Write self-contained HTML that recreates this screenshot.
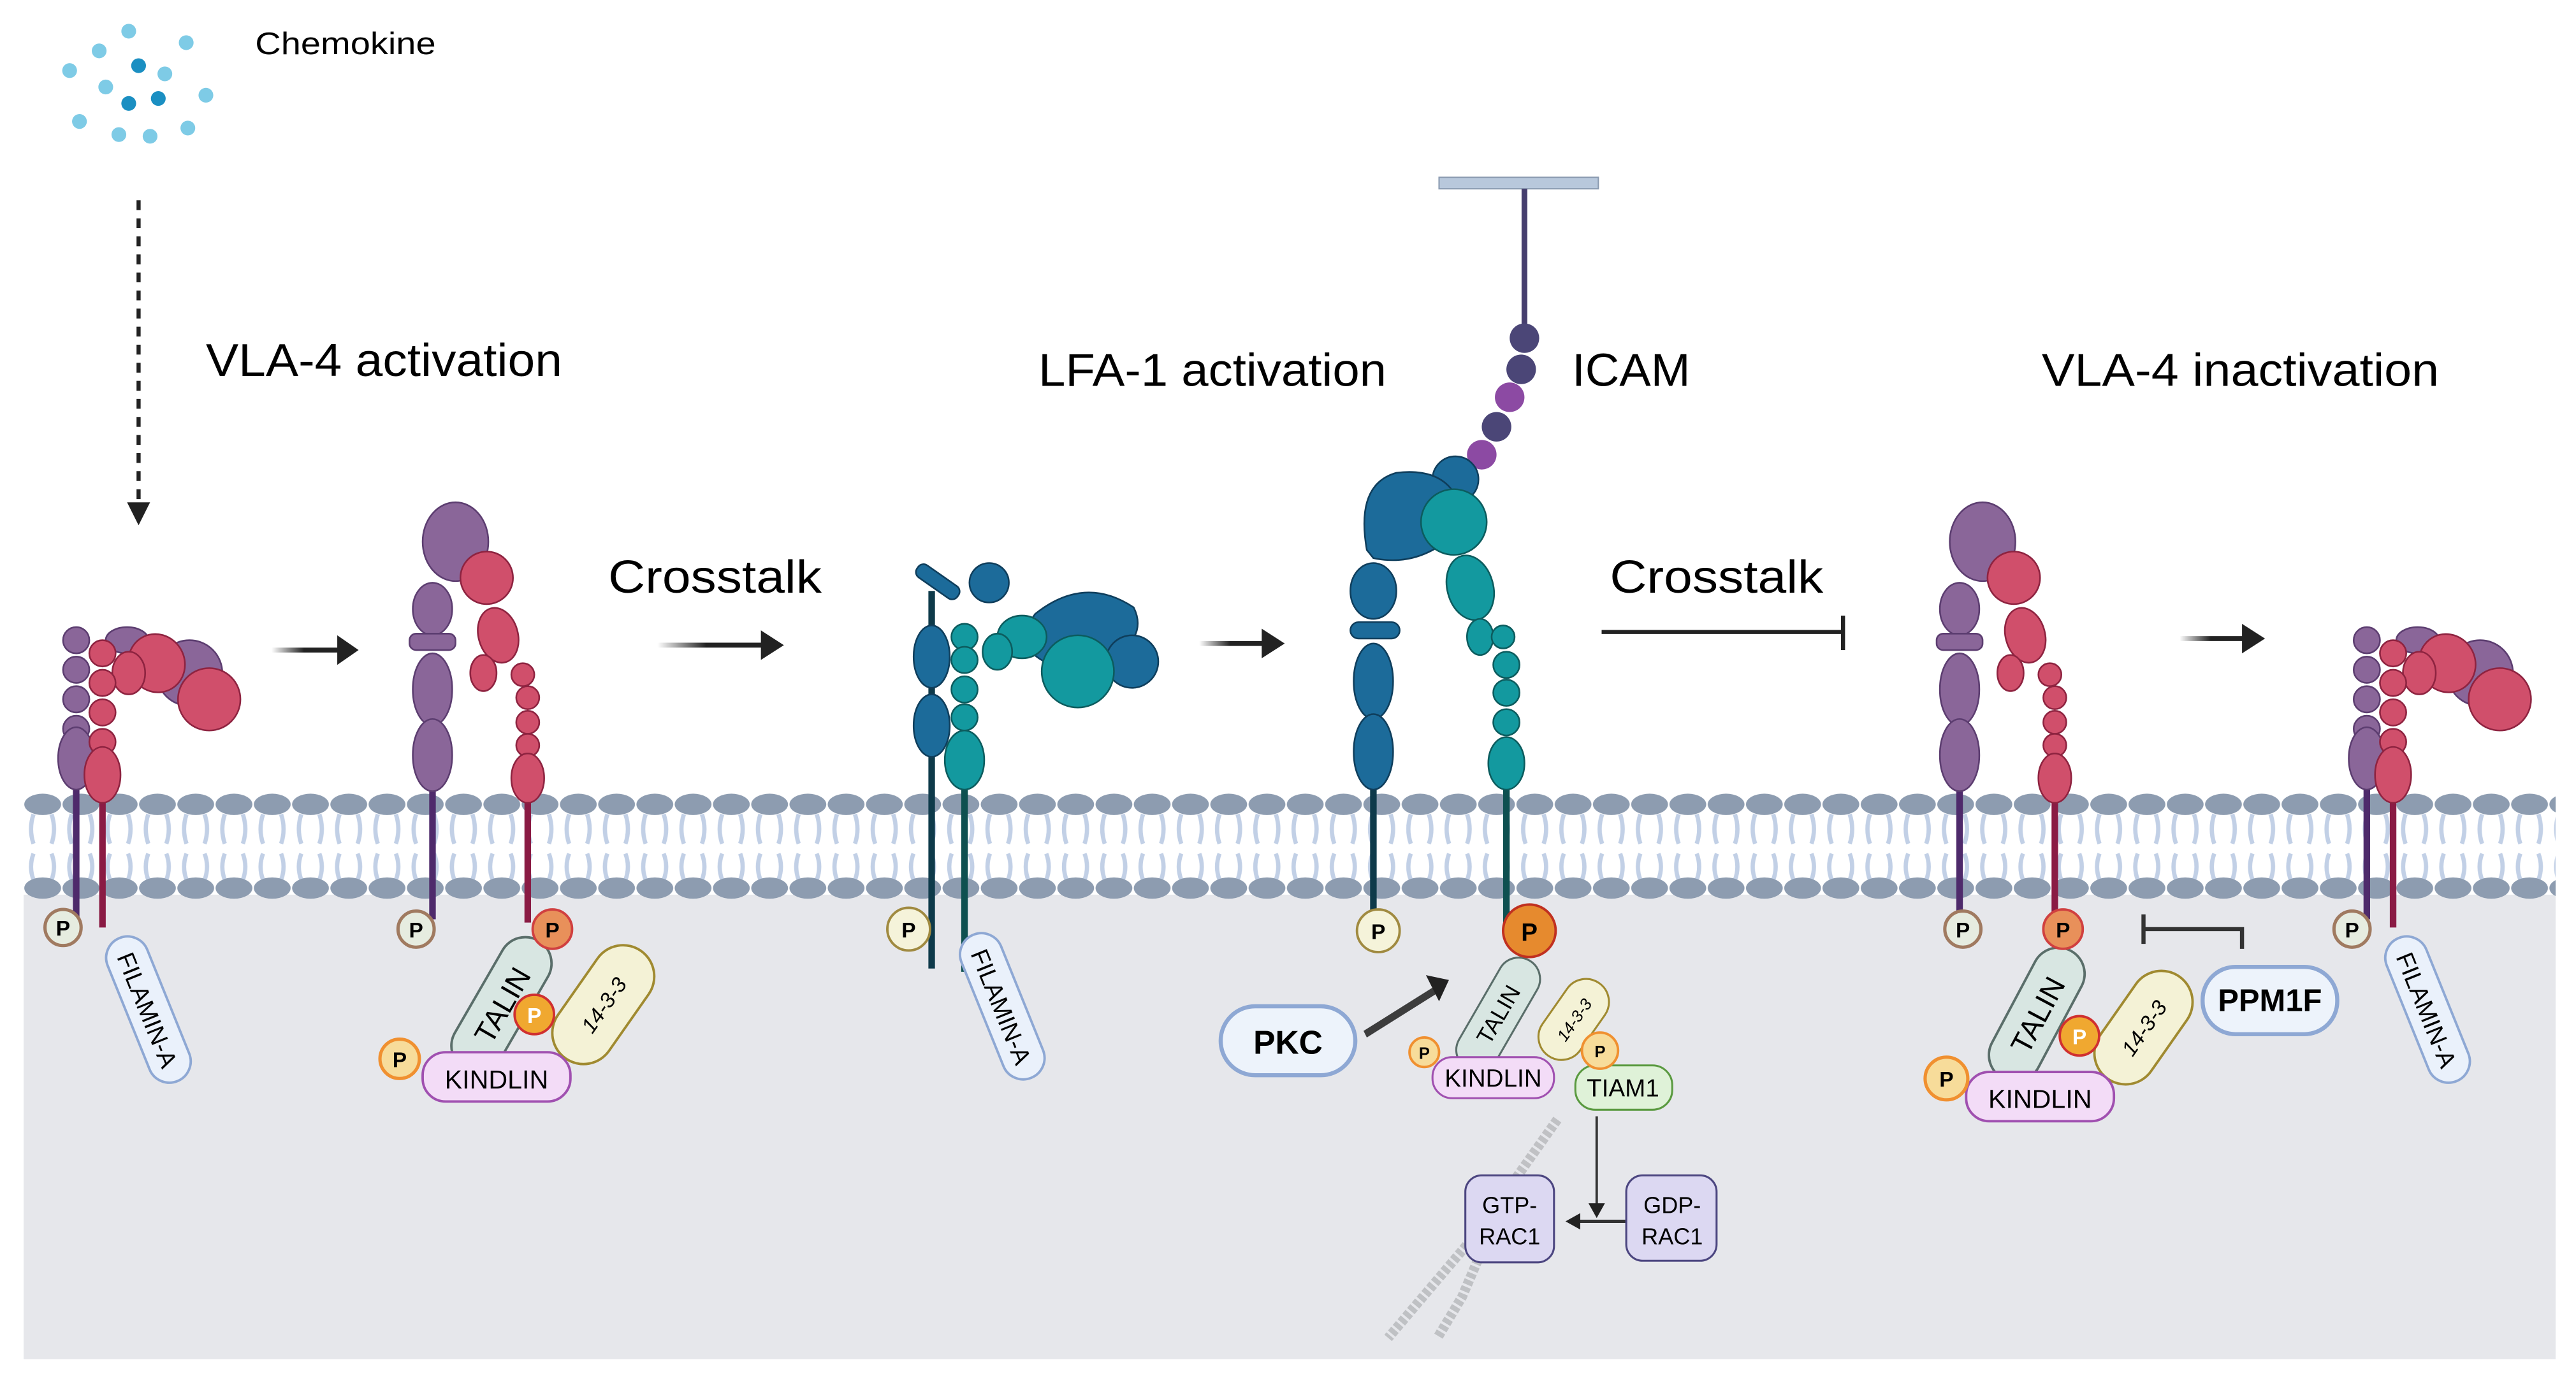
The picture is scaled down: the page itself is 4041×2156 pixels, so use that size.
<!DOCTYPE html>
<html><head><meta charset="utf-8"><style>
html,body{margin:0;padding:0;background:#fff}
svg{display:block}
text{font-family:"Liberation Sans",sans-serif}
</style></head><body>
<svg width="4041" height="2156" viewBox="0 0 1568 837" xmlns="http://www.w3.org/2000/svg">
<defs>
<pattern id="mem" x="14" y="0" width="23.3" height="837" patternUnits="userSpaceOnUse">
<path d="M6,496 Q3,505 6,514 M17,496 Q20,505 17,514 M6,520 Q3,528 6,536 M17,520 Q20,528 17,536" stroke="#c2d0e6" stroke-width="2.6" fill="none"/>
<ellipse cx="11.6" cy="490" rx="11.2" ry="6.5" fill="#8d9cb0"/>
<ellipse cx="11.6" cy="541" rx="11.2" ry="6.5" fill="#8d9cb0"/>
</pattern>
<linearGradient id="ga" x1="0" x2="1" y1="0" y2="0"><stop offset="0" stop-color="#222" stop-opacity="0"/><stop offset="0.45" stop-color="#222"/></linearGradient>
</defs>
<rect x="14" y="545" width="1542" height="283" fill="#e6e7eb"/>
<rect x="14" y="480" width="1542" height="70" fill="url(#mem)"/>

<!-- chemokine -->
<g fill="#7ecbe6">
<circle cx="78" cy="19" r="4.5"/><circle cx="60" cy="31" r="4.5"/><circle cx="113" cy="26" r="4.5"/><circle cx="42" cy="43" r="4.5"/><circle cx="100" cy="45" r="4.5"/><circle cx="64" cy="53" r="4.5"/><circle cx="125" cy="58" r="4.5"/><circle cx="48" cy="74" r="4.5"/><circle cx="72" cy="82" r="4.5"/><circle cx="114" cy="78" r="4.5"/><circle cx="91" cy="83" r="4.5"/>
</g>
<g fill="#1b8fc2"><circle cx="84" cy="40" r="4.5"/><circle cx="96" cy="60" r="4.5"/><circle cx="78" cy="63" r="4.5"/></g>
<text x="155" y="33" font-size="19" textLength="110" lengthAdjust="spacingAndGlyphs">Chemokine</text>
<line x1="84" y1="122" x2="84" y2="312" stroke="#222" stroke-width="2.5" stroke-dasharray="6,5"/>
<path d="M77,306 L91,306 L84,320Z" fill="#222"/>

<text x="125" y="229" font-size="28" textLength="217" lengthAdjust="spacingAndGlyphs">VLA-4 activation</text>
<text x="632" y="235" font-size="28" textLength="212" lengthAdjust="spacingAndGlyphs">LFA-1 activation</text>
<text x="957" y="235" font-size="28" textLength="72" lengthAdjust="spacingAndGlyphs">ICAM</text>
<text x="1243" y="235" font-size="28" textLength="242" lengthAdjust="spacingAndGlyphs">VLA-4 inactivation</text>
<text x="370" y="361" font-size="28" textLength="130" lengthAdjust="spacingAndGlyphs">Crosstalk</text>
<text x="980" y="361" font-size="28" textLength="130" lengthAdjust="spacingAndGlyphs">Crosstalk</text>

<!-- arrows -->
<g fill="url(#ga)">
<rect x="165" y="394.5" width="44" height="3"/><rect x="400" y="391.5" width="66" height="3"/><rect x="730" y="390.5" width="42" height="3"/><rect x="1327" y="387.5" width="42" height="3"/>
</g>
<g fill="#222"><path d="M205,387 L218,396 L205,405Z"/><path d="M463,384 L477,393 L463,402Z"/><path d="M768,383 L782,392 L768,401Z"/><path d="M1365,380 L1379,389 L1365,398Z"/></g>
<line x1="975" y1="385" x2="1122" y2="385" stroke="#222" stroke-width="2.5"/>
<line x1="1122" y1="375" x2="1122" y2="396" stroke="#222" stroke-width="2.5"/>

<!-- ICAM -->
<rect x="876" y="108" width="97" height="7" fill="#b8c8dc" stroke="#8a9ab0" stroke-width="0.8"/>
<line x1="928" y1="115" x2="928" y2="200" stroke="#463e6e" stroke-width="3.5"/>
<circle cx="928" cy="206" r="9" fill="#4b4677"/><circle cx="926" cy="225" r="9" fill="#4b4677"/><circle cx="919" cy="242" r="9" fill="#8c4aa3"/><circle cx="911" cy="260" r="9" fill="#4b4677"/><circle cx="902" cy="277" r="9" fill="#8c4aa3"/>

<!-- Integrin 1 bent VLA-4 -->
<g id="i1" stroke-width="1">
<line x1="46" y1="470" x2="46" y2="560" stroke="#4e2a6b" stroke-width="4"/>
<line x1="62" y1="478" x2="62" y2="565" stroke="#8a1b44" stroke-width="4"/>
<g fill="#8a6699" stroke="#5c3d70">
<circle cx="115" cy="410" r="20"/>
<ellipse cx="77" cy="390" rx="13" ry="8"/>
<circle cx="46" cy="390" r="8"/><circle cx="46" cy="408" r="8"/><circle cx="46" cy="426" r="8"/><circle cx="46" cy="444" r="8"/>
<ellipse cx="46" cy="462" rx="11" ry="19"/>
</g>
<g fill="#d04f6b" stroke="#8e2340">
<ellipse cx="95" cy="404" rx="17" ry="18" transform="rotate(-30 95 404)"/>
<ellipse cx="78" cy="410" rx="10" ry="13"/>
<circle cx="127" cy="426" r="19"/>
<circle cx="62" cy="398" r="8"/><circle cx="62" cy="416" r="8"/><circle cx="62" cy="434" r="8"/><circle cx="62" cy="452" r="8"/>
<ellipse cx="62" cy="472" rx="11" ry="17"/>
</g>
</g>
<use href="#i1" x="1395" y="0"/>

<!-- Integrin 2 extended VLA-4 -->
<g id="i2">
<line x1="263" y1="470" x2="263" y2="560" stroke="#4e2a6b" stroke-width="4"/>
<line x1="321" y1="480" x2="321" y2="562" stroke="#8a1b44" stroke-width="4"/>
<g fill="#8a6699" stroke="#5c3d70">
<ellipse cx="277" cy="330" rx="20" ry="24"/>
<ellipse cx="263" cy="371" rx="12" ry="16"/>
<rect x="249" y="386" width="28" height="10" rx="4"/>
<ellipse cx="263" cy="420" rx="12" ry="22"/>
<ellipse cx="263" cy="460" rx="12" ry="22"/>
</g>
<g fill="#d04f6b" stroke="#8e2340">
<circle cx="296" cy="352" r="16"/>
<ellipse cx="303" cy="387" rx="12" ry="17" transform="rotate(-15 303 387)"/>
<ellipse cx="294" cy="410" rx="8" ry="11"/>
<circle cx="318" cy="411" r="7"/><circle cx="321" cy="425" r="7"/><circle cx="321" cy="440" r="7"/><circle cx="321" cy="454" r="7"/>
<ellipse cx="321" cy="474" rx="10" ry="15"/>
</g>
</g>
<use href="#i2" x="930" y="0"/>

<!-- Integrin 3 bent LFA-1 -->
<line x1="567" y1="360" x2="567" y2="590" stroke="#0e3a4a" stroke-width="4"/>
<line x1="587" y1="470" x2="587" y2="592" stroke="#0e5050" stroke-width="4"/>
<g fill="#1c6b9a" stroke="#0f3e5c">
<path d="M630,374 Q660,350 690,370 Q700,390 670,405 L640,405 Q615,395 630,374Z"/>
<circle cx="602" cy="355" r="12"/>
<circle cx="689" cy="403" r="16"/>
<rect x="556" y="350" width="30" height="9" rx="4" transform="rotate(35 571 354)"/>
<ellipse cx="567" cy="400" rx="11" ry="19"/>
<ellipse cx="567" cy="442" rx="11" ry="19"/>
</g>
<g fill="#13999f" stroke="#0c5c5e">
<ellipse cx="622" cy="388" rx="15" ry="13"/>
<ellipse cx="607" cy="397" rx="9" ry="11"/>
<circle cx="656" cy="409" r="22"/>
<circle cx="587" cy="388" r="8"/><circle cx="587" cy="402" r="8"/><circle cx="587" cy="420" r="8"/><circle cx="587" cy="437" r="8"/>
<ellipse cx="587" cy="463" rx="12" ry="18"/>
</g>

<!-- Integrin 4 extended LFA-1 -->
<line x1="836" y1="470" x2="836" y2="562" stroke="#0e3a4a" stroke-width="4"/>
<line x1="917" y1="475" x2="917" y2="562" stroke="#0e5050" stroke-width="4"/>
<g fill="#1c6b9a" stroke="#0f3e5c">
<circle cx="886" cy="292" r="14"/>
<path d="M832,335 Q825,295 850,288 Q875,285 885,300 L880,330 Q860,345 836,340Z"/>
<ellipse cx="836" cy="360" rx="14" ry="17"/>
<rect x="822" y="379" width="30" height="10" rx="5"/>
<ellipse cx="836" cy="415" rx="12" ry="23"/>
<ellipse cx="836" cy="458" rx="12" ry="23"/>
</g>
<g fill="#13999f" stroke="#0c5c5e">
<circle cx="885" cy="318" r="20"/>
<ellipse cx="895" cy="358" rx="14" ry="20" transform="rotate(-15 895 358)"/>
<ellipse cx="901" cy="388" rx="8" ry="11"/>
<circle cx="915" cy="388" r="7"/><circle cx="917" cy="405" r="8"/><circle cx="917" cy="422" r="8"/><circle cx="917" cy="440" r="8"/>
<ellipse cx="917" cy="465" rx="11" ry="16"/>
</g>

<!-- P circles -->
<g font-size="13" font-weight="bold" text-anchor="middle">
<circle cx="38" cy="565" r="11" fill="#e6ece0" stroke="#a07a60" stroke-width="2"/><text x="38" y="570">P</text>
<circle cx="253" cy="566" r="11" fill="#e6ece0" stroke="#a07a60" stroke-width="2"/><text x="253" y="571">P</text>
<circle cx="1195" cy="566" r="11" fill="#e6ece0" stroke="#a07a60" stroke-width="2"/><text x="1195" y="571">P</text>
<circle cx="1432" cy="566" r="11" fill="#e6ece0" stroke="#a07a60" stroke-width="2"/><text x="1432" y="571">P</text>
<circle cx="553" cy="566" r="13" fill="#f5f3da" stroke="#a08a40" stroke-width="1.5"/><text x="553" y="571">P</text>
<circle cx="839" cy="567" r="13" fill="#f5f3da" stroke="#a08a40" stroke-width="1.5"/><text x="839" y="572">P</text>
</g>

<!-- FILAMIN-A pills -->
<g id="fil">
<g transform="translate(90,615) rotate(68)">
<rect x="-47" y="-13" width="94" height="26" rx="13" fill="#eaf1fb" stroke="#8ea8d4" stroke-width="1.5"/>
<text x="0" y="6" font-size="15" text-anchor="middle">FILAMIN-A</text>
</g>
</g>
<use href="#fil" x="520" y="-2"/>
<use href="#fil" x="1388" y="0"/>

<!-- complex 2 -->
<g transform="translate(305,612) rotate(-60)">
<rect x="-45" y="-16" width="90" height="32" rx="16" fill="#d8e6e2" stroke="#5a6e6a" stroke-width="1.5"/>
<text x="0" y="7" font-size="18" text-anchor="middle">TALIN</text></g>
<circle cx="336" cy="566" r="12" fill="#e8905a" stroke="#d04040" stroke-width="1.5"/><text x="336" y="571" font-size="13" font-weight="bold" text-anchor="middle">P</text>
<g transform="translate(367,612) rotate(-55)">
<rect x="-40" y="-19" width="80" height="38" rx="19" fill="#f4f2d6" stroke="#a08a30" stroke-width="1.5"/>
<text x="0" y="5" font-size="13" font-style="italic" text-anchor="middle">14-3-3</text></g>
<circle cx="325" cy="618" r="12" fill="#f0a830" stroke="#d03030" stroke-width="1.5"/><text x="325" y="623" font-size="13" font-weight="bold" fill="#fff" text-anchor="middle">P</text>
<rect x="257" y="641" width="90" height="30" rx="14" fill="#f3dcf7" stroke="#a050b0" stroke-width="1.5"/>
<text x="302" y="663" font-size="16" text-anchor="middle">KINDLIN</text>
<circle cx="243" cy="645" r="12" fill="#f7dc9a" stroke="#f09030" stroke-width="2"/><text x="243" y="650" font-size="13" font-weight="bold" text-anchor="middle">P</text>

<!-- complex 4 -->
<g stroke="#bbbdc0" stroke-width="6" stroke-dasharray="3,1.5" fill="none" opacity="0.9">
<path d="M948,682 L900,750 L845,815"/>
<path d="M905,755 L890,790 L875,815"/>
</g>
<g transform="translate(912,618) rotate(-60)">
<rect x="-38" y="-13" width="76" height="26" rx="13" fill="#d8e6e2" stroke="#5a6e6a" stroke-width="1.2"/>
<text x="0" y="5" font-size="14" text-anchor="middle">TALIN</text></g>
<circle cx="931" cy="567" r="16" fill="#e68a2e" stroke="#c03020" stroke-width="1.5"/><text x="931" y="573" font-size="15" font-weight="bold" text-anchor="middle">P</text>
<g transform="translate(958,621) rotate(-55)">
<rect x="-27" y="-14" width="54" height="28" rx="14" fill="#f4f2d6" stroke="#a08a30" stroke-width="1.2"/>
<text x="0" y="4" font-size="10" font-style="italic" text-anchor="middle">14-3-3</text></g>
<rect x="872" y="644" width="74" height="25" rx="12" fill="#f3dcf7" stroke="#a050b0" stroke-width="1.2"/>
<text x="909" y="662" font-size="15" text-anchor="middle">KINDLIN</text>
<circle cx="867" cy="641" r="9" fill="#f7dc9a" stroke="#f09030" stroke-width="1.5"/><text x="867" y="645" font-size="10" font-weight="bold" text-anchor="middle">P</text>
<rect x="959" y="649" width="59" height="27" rx="12" fill="#dff2d8" stroke="#5a9a40" stroke-width="1.2"/>
<text x="988" y="668" font-size="15" text-anchor="middle">TIAM1</text>
<circle cx="974" cy="640" r="11" fill="#f7dc9a" stroke="#f09030" stroke-width="1.5"/><text x="974" y="644" font-size="10" font-weight="bold" text-anchor="middle">P</text>
<polygon points="830,628 873,601 875,605 832,632" fill="#2a2a2a" opacity="0.9"/>
<path d="M868,594 L882,597 L876,610Z" fill="#222"/>
<rect x="743" y="613" width="82" height="42" rx="21" fill="#edf3fb" stroke="#8ea8d4" stroke-width="2.5"/>
<text x="784" y="642" font-size="20" font-weight="bold" text-anchor="middle">PKC</text>
<line x1="972" y1="680" x2="972" y2="735" stroke="#333" stroke-width="1.5"/>
<path d="M967,733 L977,733 L972,742Z" fill="#222"/>
<line x1="990" y1="744" x2="960" y2="744" stroke="#333" stroke-width="2"/>
<path d="M962,739 L953,744 L962,749Z" fill="#222"/>
<rect x="892" y="716" width="54" height="53" rx="10" fill="#dcd8f2" stroke="#4c4680" stroke-width="1.2"/>
<text x="919" y="739" font-size="14" text-anchor="middle">GTP-</text><text x="919" y="758" font-size="14" text-anchor="middle">RAC1</text>
<rect x="990" y="716" width="55" height="52" rx="10" fill="#dcd8f2" stroke="#4c4680" stroke-width="1.2"/>
<text x="1018" y="739" font-size="14" text-anchor="middle">GDP-</text><text x="1018" y="758" font-size="14" text-anchor="middle">RAC1</text>

<!-- complex 5 -->
<g transform="translate(1240,618) rotate(-62)">
<rect x="-44" y="-16" width="88" height="32" rx="16" fill="#d8e6e2" stroke="#5a6e6a" stroke-width="1.5"/>
<text x="0" y="7" font-size="18" text-anchor="middle">TALIN</text></g>
<circle cx="1256" cy="566" r="12" fill="#e8905a" stroke="#d04040" stroke-width="1.5"/><text x="1256" y="571" font-size="13" font-weight="bold" text-anchor="middle">P</text>
<g transform="translate(1305,626) rotate(-55)">
<rect x="-38" y="-19" width="76" height="38" rx="19" fill="#f4f2d6" stroke="#a08a30" stroke-width="1.5"/>
<text x="0" y="5" font-size="13" font-style="italic" text-anchor="middle">14-3-3</text></g>
<circle cx="1266" cy="631" r="12" fill="#f0a830" stroke="#d03030" stroke-width="1.5"/><text x="1266" y="636" font-size="13" font-weight="bold" fill="#fff" text-anchor="middle">P</text>
<rect x="1197" y="653" width="90" height="30" rx="14" fill="#f3dcf7" stroke="#a050b0" stroke-width="1.5"/>
<text x="1242" y="675" font-size="16" text-anchor="middle">KINDLIN</text>
<circle cx="1185" cy="657" r="13" fill="#f7dc9a" stroke="#f09030" stroke-width="2"/><text x="1185" y="662" font-size="13" font-weight="bold" text-anchor="middle">P</text>
<path d="M1365,578 L1365,566 L1305,566" stroke="#333" stroke-width="2.5" fill="none"/>
<line x1="1305" y1="557" x2="1305" y2="575" stroke="#333" stroke-width="2.5"/>
<rect x="1341" y="589" width="82" height="41" rx="20" fill="#edf3fb" stroke="#8ea8d4" stroke-width="2.5"/>
<text x="1382" y="616" font-size="19" font-weight="bold" text-anchor="middle">PPM1F</text>
</svg>
</body></html>
